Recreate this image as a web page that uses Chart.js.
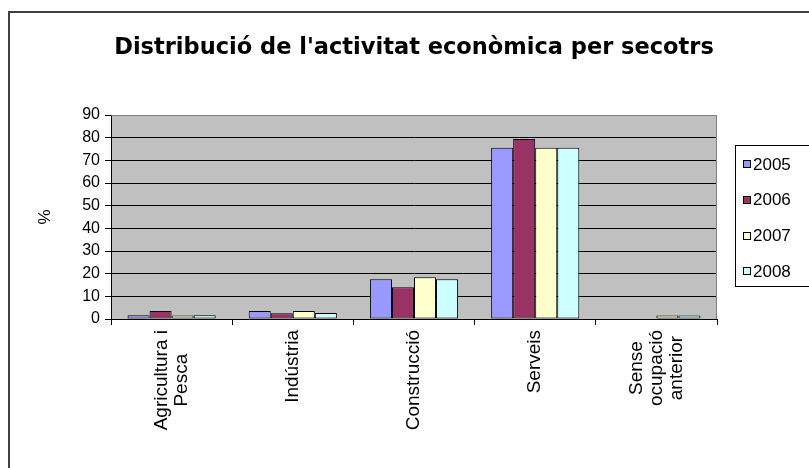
<!DOCTYPE html>
<html>
<head>
<meta charset="utf-8">
<script src="https://cdn.jsdelivr.net/npm/chart.js@4.4.1/dist/chart.umd.min.js"></script>
<style>
  html, body { margin: 0; padding: 0; background: #ffffff; }
  #wrap { width: 809px; height: 468px; position: relative; }
</style>
</head>
<body>
<div id="wrap"><canvas id="c" width="809" height="468"></canvas></div>
<script>
// ---- data ----
const categories = [['Agricultura i', 'Pesca'], 'Indústria', 'Construcció', 'Serveis', ['Sense', 'ocupació', 'anterior']];
const seriesNames = ['2005', '2006', '2007', '2008'];
const values2005 = [1.7, 3.5, 17.5, 75.6, 0];
const values2006 = [3.5, 2.5, 14.0, 79.4, 0];
const values2007 = [1.5, 3.5, 18.4, 75.6, 1.5];
const values2008 = [1.7, 2.6, 17.5, 75.6, 1.5];
const yTicks = [0, 10, 20, 30, 40, 50, 60, 70, 80, 90];
const titleText = "Distribució de l'activitat econòmica per secotrs";
const yTitle = '%';

const colors = ['#9999FF', '#993366', '#FFFFCC', '#CCFFFF'];
const allValues = [values2005, values2006, values2007, values2008];

const FONT = "'Liberation Sans', Arial, sans-serif";

// plot background + frame
const plotBg = {
  id: 'plotBg',
  beforeDraw(chart) {
    const {ctx, chartArea: a} = chart;
    ctx.save();
    ctx.fillStyle = '#FFFFFF';
    ctx.fillRect(0, 0, chart.width, chart.height);
    ctx.fillStyle = '#C0C0C0';
    ctx.fillRect(a.left, a.top, a.right - a.left, a.bottom - a.top);
    // outer chart border
    ctx.strokeStyle = '#404040';
    ctx.lineWidth = 2;
    ctx.strokeRect(9, 12, 900, 900);
    ctx.restore();
  },
  beforeDatasetsDraw(chart) {
    const {ctx, chartArea: a} = chart;
    ctx.save();
    ctx.strokeStyle = '#808080';
    ctx.lineWidth = 1;
    ctx.beginPath();
    ctx.moveTo(Math.round(a.left) + 0.5, Math.round(a.top) + 0.5);
    ctx.lineTo(Math.round(a.right) - 0.5, Math.round(a.top) + 0.5);
    ctx.lineTo(Math.round(a.right) - 0.5, Math.round(a.bottom));
    ctx.stroke();
    ctx.restore();
  }
};

// center multi-line rotated category labels (Excel style)
const centerLabels = {
  id: 'centerLabels',
  beforeDraw(chart) {
    const scale = chart.scales.x;
    const items = scale.getLabelItems(chart.chartArea);
    const ctx = chart.ctx;
    items.forEach((it, i) => {
      const lines = Array.isArray(it.label) ? it.label : [it.label];
      ctx.save();
      ctx.font = it.font.string;
      let w = 0;
      lines.forEach(l => { w = Math.max(w, ctx.measureText(l).width); });
      ctx.restore();
      const lh = it.font.lineHeight;
      const px = scale.getPixelForTick(i);
      it.options.textAlign = 'center';
      it.options.textBaseline = 'middle';
      it.textOffset = -(lines.length - 1) * lh / 2;
      it.options.translation = [px, scale.top + 11 + w / 2];
    });
  }
};

// legend box like Excel
const boxLegend = {
  id: 'boxLegend',
  afterDraw(chart) {
    const ctx = chart.ctx;
    ctx.save();
    ctx.strokeStyle = '#000000';
    ctx.lineWidth = 1;
    ctx.strokeRect(735.5, 145.5, 120, 141);
    ctx.font = '17px ' + FONT;
    ctx.textBaseline = 'middle';
    ctx.textAlign = 'left';
    chart.data.datasets.forEach((ds, i) => {
      const cy = 164 + i * 35.8;
      ctx.fillStyle = ds.backgroundColor;
      ctx.fillRect(743, Math.round(cy - 4), 8, 8);
      ctx.strokeStyle = '#000';
      ctx.strokeRect(743.5, Math.round(cy - 4) + 0.5, 7, 7);
      ctx.fillStyle = '#000';
      ctx.fillText(ds.label, 753, cy + 1);
    });
    ctx.restore();
  }
};

new Chart(document.getElementById('c'), {
  type: 'bar',
  data: {
    labels: categories,
    datasets: seriesNames.map((name, i) => ({
      label: name,
      data: allValues[i],
      backgroundColor: colors[i],
      borderColor: '#000000',
      borderWidth: 1,
      borderSkipped: false,
      categoryPercentage: 4 / 5.5,
      barPercentage: 1.0
    }))
  },
  options: {
    responsive: false,
    animation: false,
    devicePixelRatio: 1,
    layout: { padding: { left: 0, right: 92, top: 0, bottom: 0 } },
    plugins: {
      legend: { display: false },
      tooltip: { enabled: false },
      title: {
        display: true,
        text: titleText,
        fullSize: false,
        color: '#000',
        font: { family: "'DejaVu Sans', Verdana, sans-serif", size: 22.5, weight: 'bold', lineHeight: 1.2 },
        padding: { top: 35, bottom: 53 }
      }
    },
    scales: {
      x: {
        grid: { display: true, drawOnChartArea: false, drawTicks: true, tickLength: 6, color: '#000', tickColor: '#000', offset: true },
        border: { display: true, color: '#000', width: 1 },
        ticks: {
          color: '#000',
          autoSkip: false,
          minRotation: 90,
          maxRotation: 90,
          padding: 5,
          font: { family: FONT, size: 19, lineHeight: 1.05 }
        },
        afterFit(scale) { scale.height = 149; }
      },
      y: {
        min: 0,
        max: 90,
        afterBuildTicks(scale) { scale.ticks = yTicks.map(v => ({ value: v })); },
        grid: {
          color: (c) => (c.tick && c.tick.value === 90 ? 'rgba(0,0,0,0)' : '#000'),
          tickColor: '#000',
          tickLength: 6,
          lineWidth: 1
        },
        border: { display: true, color: '#000', width: 1 },
        ticks: { color: '#000', padding: 5, font: { family: FONT, size: 16 } },
        title: {
          display: true,
          text: yTitle,
          color: '#000',
          font: { family: FONT, size: 17 },
          padding: { top: 35, bottom: 0 }
        },
        afterFit(scale) { scale.width = 111; }
      }
    }
  },
  plugins: [plotBg, centerLabels, boxLegend]
});
</script>
</body>
</html>
